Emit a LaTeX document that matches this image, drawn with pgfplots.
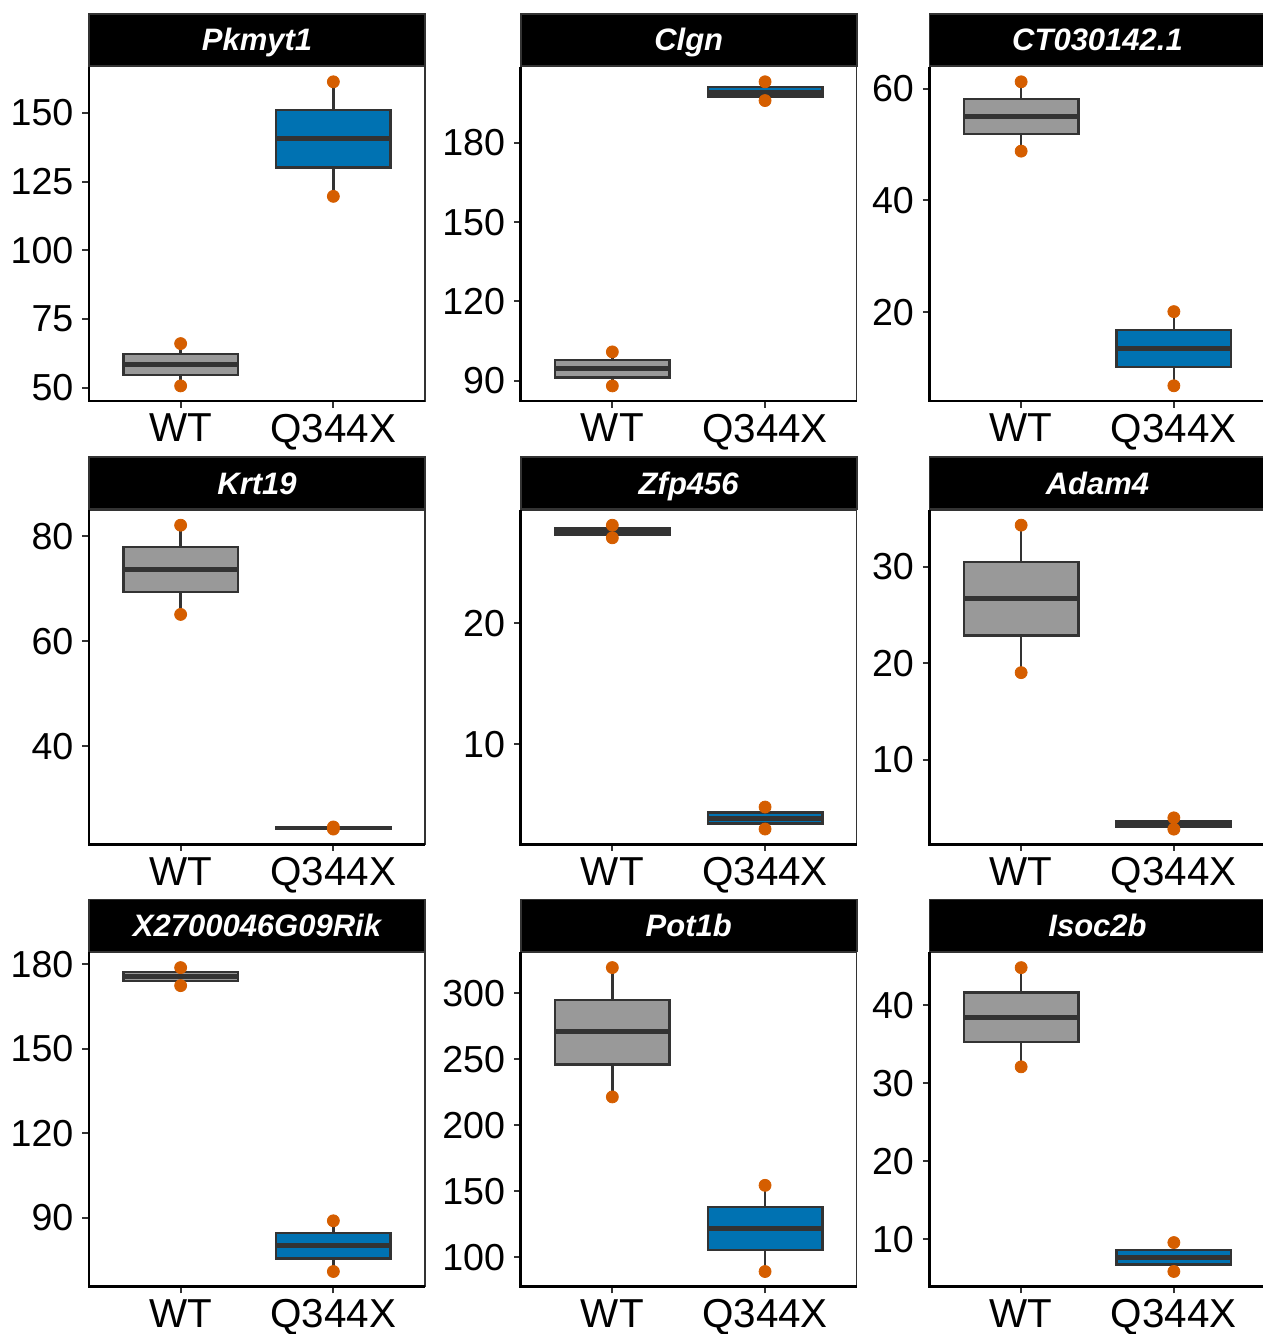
\documentclass[border=0pt]{standalone}
\usepackage{pgfplots}
\pgfplotsset{compat=1.18}
\usepackage{fontspec}
\setmainfont{Liberation Sans}
\definecolor{wtgray}{HTML}{999999}
\definecolor{mutblue}{HTML}{0072B2}
\definecolor{dotor}{HTML}{D55E00}
\definecolor{outl}{HTML}{333333}
\pgfplotsset{
 gpanel/.style={
  scale only axis, width=168pt, height=167.15pt, anchor=south west,
  xmin=0.4, xmax=2.6, xtick={1,2}, xticklabels={WT,Q344X},
  axis line style={draw=outl, line width=0.7pt},
  tick align=outside, tick pos=left, major tick length=3.3pt,
  tick style={draw=outl, line width=1pt},
  yticklabel style={font=\fontsize{18.8}{20}\selectfont, xshift=-1pt},
  xticklabel style={font=\fontsize{20.2}{22}\selectfont, yshift=0.3pt},
  /pgf/number format/assume math mode=true,
  clip=false,
  every axis title shift=0pt,
  title style={at={(0.5,1)}, anchor=south, yshift=0pt, fill=black, draw=outl, line width=0.8pt, text=white, minimum width=168pt, minimum height=26pt, inner sep=0pt, text height=11pt, text depth=0pt, font=\bfseries\itshape\fontsize{15.5}{18}\selectfont},
  after end axis/.code={\draw[black, line width=1.3pt] (rel axis cs:0,1) -- (rel axis cs:0,0) -- (rel axis cs:1,0);},
 },
}
% #1 fill, #2 left x, #3 centre x, #4 right x, #5 min, #6 Q1, #7 median, #8 Q3, #9 max
\newcommand\bx[9]{%
 \addplot[draw=outl, line width=1.2pt] coordinates {(#3,#5)(#3,#6)};
 \addplot[draw=outl, line width=1.2pt] coordinates {(#3,#8)(#3,#9)};
 \addplot[draw=outl, fill=#1, line width=1.2pt] coordinates {(#2,#6)(#4,#6)(#4,#8)(#2,#8)} -- cycle;
 \addplot[draw=outl, line width=2.4pt] coordinates {(#2,#7)(#4,#7)};
}
\newcommand\pts[1]{\addplot[only marks, mark=*, mark size=3pt, draw=dotor, fill=dotor] coordinates {#1};}
\begin{document}
\begin{tikzpicture}
\useasboundingbox (0,0) rectangle (631.5pt,667pt);
% Row 1
\begin{axis}[gpanel, at={(44.5pt,466.5pt)}, ymin=45.1, ymax=166.8, ytick={50,75,100,125,150}, title={Pkmyt1}]
\bx{wtgray}{0.625}{1}{1.375}{50.6}{54.5}{58.4}{62.2}{66.0}
\bx{mutblue}{1.625}{2}{2.375}{119.6}{130.15}{140.7}{151.0}{161.3}
\pts{(1,50.6)(1,66.0)(2,119.6)(2,161.3)}
\end{axis}
\begin{axis}[gpanel, at={(260.35pt,466.5pt)}, ymin=82.4, ymax=208.7, ytick={90,120,150,180}, title={Clgn}]
\bx{wtgray}{0.625}{1}{1.375}{88.1}{91.35}{94.6}{97.8}{100.95}
\bx{mutblue}{1.625}{2}{2.375}{195.9}{197.4}{198.9}{200.95}{203.0}
\pts{(1,88.1)(1,100.95)(2,195.9)(2,203.0)}
\end{axis}
\begin{axis}[gpanel, at={(464.75pt,466.5pt)}, ymin=4.12, ymax=63.9, ytick={20,40,60}, title={CT030142.1}]
\bx{wtgray}{0.625}{1}{1.375}{48.8}{51.9}{55.05}{58.1}{61.2}
\bx{mutblue}{1.625}{2}{2.375}{6.84}{10.2}{13.57}{16.8}{20.1}
\pts{(1,48.8)(1,61.2)(2,6.84)(2,20.1)}
\end{axis}
% Row 2
\begin{axis}[gpanel, at={(44.5pt,244.85pt)}, ymin=21.3, ymax=85.0, ytick={40,60,80}, title={Krt19}]
\bx{wtgray}{0.625}{1}{1.375}{65.1}{69.4}{73.7}{77.9}{82.1}
\bx{mutblue}{1.625}{2}{2.375}{24.2}{24.3}{24.4}{24.5}{24.6}
\pts{(1,65.1)(1,82.1)(2,24.2)(2,24.6)}
\end{axis}
\begin{axis}[gpanel, at={(260.35pt,244.85pt)}, ymin=1.72, ymax=29.36, ytick={10,20}, title={Zfp456}]
\bx{wtgray}{0.625}{1}{1.375}{27.06}{27.32}{27.58}{27.84}{28.1}
\bx{mutblue}{1.625}{2}{2.375}{2.98}{3.43}{3.88}{4.34}{4.8}
\pts{(1,27.06)(1,28.1)(2,2.98)(2,4.8)}
\end{axis}
\begin{axis}[gpanel, at={(464.75pt,244.85pt)}, ymin=1.26, ymax=35.87, ytick={10,20,30}, title={Adam4}]
\bx{wtgray}{0.625}{1}{1.375}{19.03}{22.86}{26.69}{30.5}{34.3}
\bx{mutblue}{1.625}{2}{2.375}{2.83}{3.1}{3.38}{3.69}{4.0}
\pts{(1,19.03)(1,34.3)(2,2.83)(2,4.0)}
\end{axis}
% Row 3
\begin{axis}[gpanel, at={(44.5pt,23.65pt)}, ymin=65.5, ymax=184.2, ytick={90,120,150,180}, title={X2700046G09Rik}]
\bx{wtgray}{0.625}{1}{1.375}{172.4}{174.0}{175.6}{177.2}{178.8}
\bx{mutblue}{1.625}{2}{2.375}{70.9}{75.55}{80.2}{84.55}{88.9}
\pts{(1,172.4)(1,178.8)(2,70.9)(2,88.9)}
\end{axis}
\begin{axis}[gpanel, at={(260.35pt,23.65pt)}, ymin=77.7, ymax=331, ytick={100,150,200,250,300}, title={Pot1b}]
\bx{wtgray}{0.625}{1}{1.375}{221.5}{246.1}{270.8}{295.1}{319.5}
\bx{mutblue}{1.625}{2}{2.375}{89.2}{105.6}{122.0}{138.2}{154.5}
\pts{(1,221.5)(1,319.5)(2,89.2)(2,154.5)}
\end{axis}
\begin{axis}[gpanel, at={(464.75pt,23.65pt)}, ymin=3.95, ymax=46.75, ytick={10,20,30,40}, title={Isoc2b}]
\bx{wtgray}{0.625}{1}{1.375}{32.1}{35.3}{38.46}{41.6}{44.8}
\bx{mutblue}{1.625}{2}{2.375}{5.9}{6.8}{7.73}{8.67}{9.6}
\pts{(1,32.1)(1,44.8)(2,5.9)(2,9.6)}
\end{axis}
\end{tikzpicture}
\end{document}
